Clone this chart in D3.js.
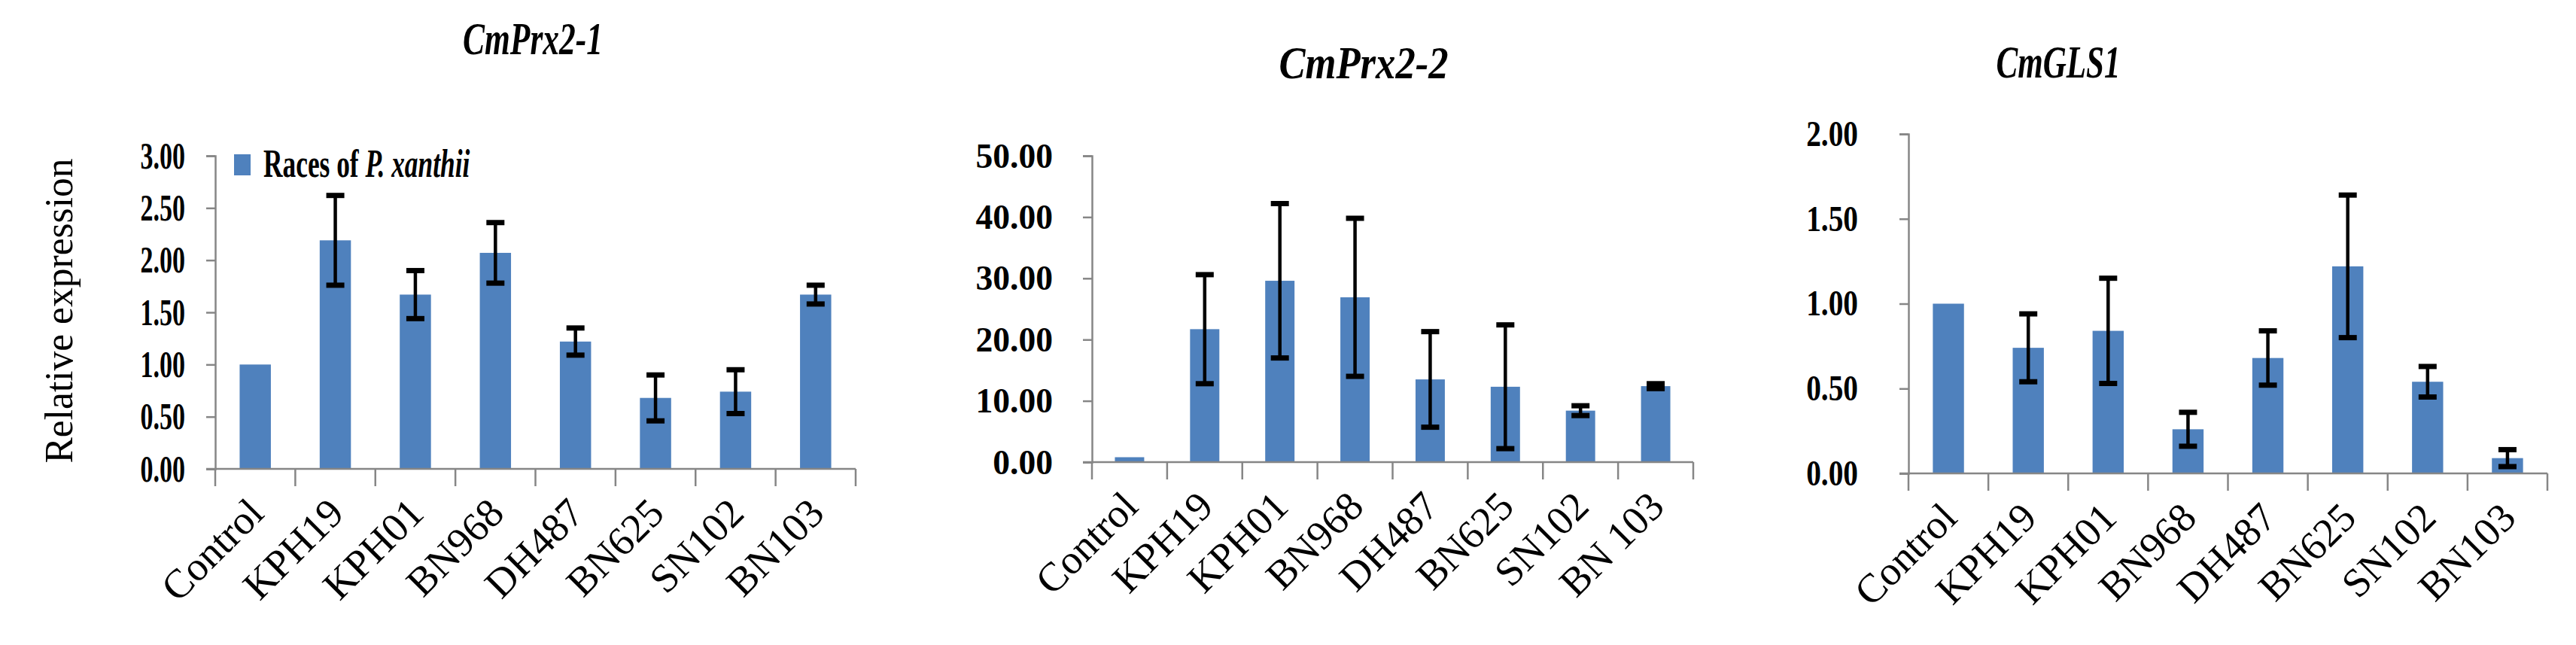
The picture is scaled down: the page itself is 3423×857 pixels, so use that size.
<!DOCTYPE html>
<html>
<head>
<meta charset="utf-8">
<script src="https://cdn.jsdelivr.net/npm/d3@7"></script>
<style>
  body { margin: 0; background: #fff; }
  svg { display: block; }
</style>
</head>
<body>
<svg id="chart"></svg>
<script>
/**
 * Data.
 */
const races = ['Control', 'KPH19', 'KPH01', 'BN968', 'DH487', 'BN625', 'SN102', 'BN103'];
const racesB = ['Control', 'KPH19', 'KPH01', 'BN968', 'DH487', 'BN625', 'SN102', 'BN 103'];
const geneTitles = ['CmPrx2-1', 'CmPrx2-2', 'CmGLS1'];

const prx21Values = [1.00, 2.19, 1.67, 2.07, 1.22, 0.68, 0.74, 1.67];
const prx21Errors = [0, 0.43, 0.23, 0.29, 0.13, 0.22, 0.21, 0.09];

const prx22Values = [0.8, 21.7, 29.6, 26.9, 13.5, 12.3, 8.4, 12.4];
const prx22Errors = [0, 8.9, 12.6, 12.9, 7.8, 10.1, 0.8, 0.4];

const gls1Values = [1.00, 0.74, 0.84, 0.26, 0.68, 1.22, 0.54, 0.09];
const gls1Errors = [0, 0.20, 0.31, 0.10, 0.16, 0.42, 0.09, 0.05];

const prx21Ticks = [0, 0.5, 1, 1.5, 2, 2.5, 3];
const prx22Ticks = [0, 10, 20, 30, 40, 50];
const gls1Ticks = [0, 0.5, 1, 1.5, 2];

const legendLabel = 'Races of ';
const legendSpecies = 'P. xanthii';
const yLabel = 'Relative expression';

/**
 * Set stuff up.
 */
const width = 3423;
const height = 857;
const barColor = '#4f81bd';
const axisColor = '#868686';
const serif = '"Liberation Serif", "Times New Roman", serif';

const svg = d3.select('#chart')
    .attr('width', width)
    .attr('height', height)
    .attr('viewBox', `0 0 ${width} ${height}`);

// each panel was squeezed sideways by a different amount in the original figure (sx)
const panels = [
    { title: geneTitles[0], cats: races, values: prx21Values, errors: prx21Errors, ticks: prx21Ticks,
      x0: 286, x1: 1137, yTop: 207, yBottom: 623, titleX: 708, titleY: 72, titleW: 186,
      sx: 0.68, fs: 50, pad: 28 },
    { title: geneTitles[1], cats: racesB, values: prx22Values, errors: prx22Errors, ticks: prx22Ticks,
      x0: 1451, x1: 2250, yTop: 207, yBottom: 614, titleX: 1812, titleY: 104, titleW: 225,
      sx: 0.97, fs: 47, pad: 40 },
    { title: geneTitles[2], cats: races, values: gls1Values, errors: gls1Errors, ticks: gls1Ticks,
      x0: 2536, x1: 3385, yTop: 178, yBottom: 629, titleX: 2735, titleY: 103, titleW: 165,
      sx: 0.82, fs: 48, pad: 55 }
];

panels.forEach(function (p) {
    const g = svg.append('g');
    const rows = p.cats.map((c, i) => ({ cat: c, value: p.values[i], err: p.errors[i] }));

    const x = d3.scaleBand()
        .domain(p.cats)
        .range([p.x0, p.x1])
        .paddingInner(0.61)
        .paddingOuter(0.305);

    const y = d3.scaleLinear()
        .domain([0, d3.max(p.ticks)])
        .range([p.yBottom, p.yTop]);

    // title
    g.append('text')
        .attr('x', p.titleX)
        .attr('y', p.titleY)
        .attr('text-anchor', 'middle')
        .attr('font-family', serif)
        .attr('font-weight', 'bold')
        .attr('font-style', 'italic')
        .attr('font-size', 62)
        .attr('textLength', p.titleW)
        .attr('lengthAdjust', 'spacingAndGlyphs')
        .text(p.title);

    // y axis
    const yAxis = g.append('g')
        .attr('transform', `translate(${p.x0},0)`)
        .call(d3.axisLeft(y)
            .tickValues(p.ticks)
            .tickFormat(d3.format('.2f'))
            .tickSize(12));
    yAxis.select('.domain').attr('stroke', axisColor).attr('stroke-width', 2.5);
    yAxis.selectAll('.tick line').attr('stroke', axisColor).attr('stroke-width', 2.5);
    yAxis.selectAll('.tick text')
        .attr('x', 0)
        .attr('transform', `translate(${-(12 + p.pad)},0) scale(${p.sx},1)`)
        .attr('font-family', serif)
        .attr('font-weight', 'bold')
        .attr('font-size', p.fs)
        .attr('fill', '#000');

    // bars
    g.selectAll('rect.bar')
        .data(rows)
        .enter()
        .append('rect')
        .attr('class', 'bar')
        .attr('x', d => x(d.cat))
        .attr('y', d => y(d.value))
        .attr('width', x.bandwidth())
        .attr('height', d => y(0) - y(d.value))
        .attr('fill', barColor);

    // x axis line and category ticks
    const step = x.step();
    g.append('line')
        .attr('x1', p.x0 - 12).attr('x2', p.x1)
        .attr('y1', y(0)).attr('y2', y(0))
        .attr('stroke', axisColor).attr('stroke-width', 2.5);
    g.selectAll('line.xtick')
        .data(d3.range(p.cats.length + 1))
        .enter()
        .append('line')
        .attr('class', 'xtick')
        .attr('x1', i => p.x0 + i * step).attr('x2', i => p.x0 + i * step)
        .attr('y1', y(0)).attr('y2', y(0) + 23)
        .attr('stroke', axisColor).attr('stroke-width', 2.5);

    // error bars
    const withErr = rows.filter(d => d.err > 0);
    const cx = d => x(d.cat) + x.bandwidth() / 2;
    g.selectAll('line.err')
        .data(withErr)
        .enter()
        .append('line')
        .attr('class', 'err')
        .attr('x1', cx).attr('x2', cx)
        .attr('y1', d => y(d.value + d.err)).attr('y2', d => y(d.value - d.err))
        .attr('stroke', '#000').attr('stroke-width', 4.5);
    [1, -1].forEach(function (s) {
        g.selectAll(null)
            .data(withErr)
            .enter()
            .append('line')
            .attr('x1', d => cx(d) - 12).attr('x2', d => cx(d) + 12)
            .attr('y1', d => y(d.value + s * d.err)).attr('y2', d => y(d.value + s * d.err))
            .attr('stroke', '#000').attr('stroke-width', 7);
    });

    // rotated category labels
    g.selectAll('text.cat')
        .data(rows)
        .enter()
        .append('text')
        .attr('class', 'cat')
        .attr('text-anchor', 'end')
        .attr('font-family', serif)
        .attr('font-size', 54)
        .attr('transform', d => `translate(${cx(d) + 14},${y(0) + 62}) rotate(-45)`)
        .text(d => d.cat);
});

/**
 * Legend and y label (first panel only).
 */
svg.append('rect')
    .attr('x', 311).attr('y', 205)
    .attr('width', 22).attr('height', 28)
    .attr('fill', barColor);

const legend = svg.append('text')
    .attr('transform', 'translate(350,235) scale(0.68,1)')
    .attr('font-family', serif)
    .attr('font-weight', 'bold')
    .attr('font-size', 52);
legend.append('tspan').text(legendLabel);
legend.append('tspan').attr('font-style', 'italic').text(legendSpecies);

svg.append('text')
    .attr('transform', 'translate(96,413) rotate(-90)')
    .attr('text-anchor', 'middle')
    .attr('font-family', serif)
    .attr('font-size', 52)
    .attr('textLength', 405)
    .attr('lengthAdjust', 'spacingAndGlyphs')
    .text(yLabel);
</script>
</body>
</html>
